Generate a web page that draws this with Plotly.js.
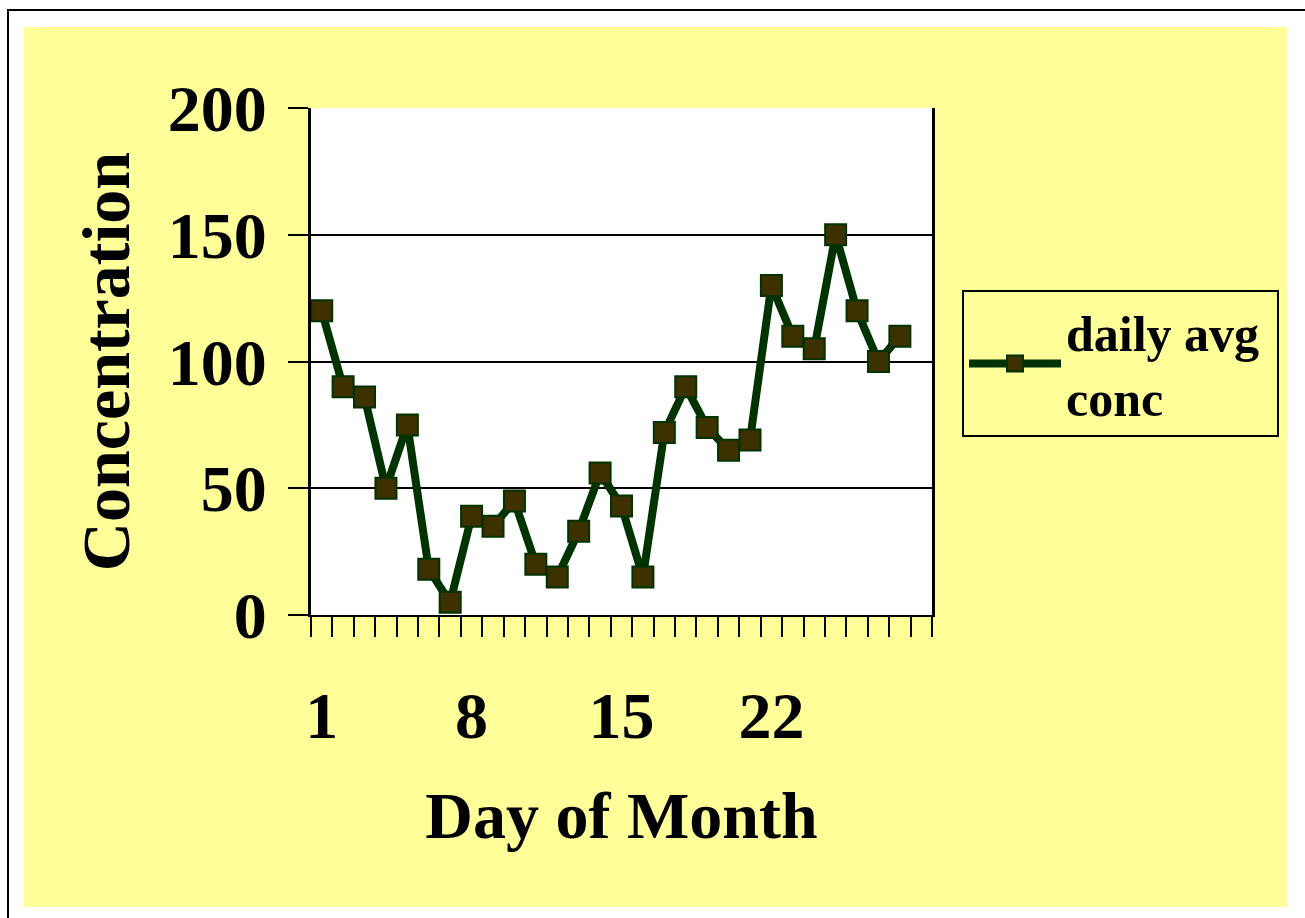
<!DOCTYPE html>
<html>
<head>
<meta charset="utf-8">
<script src="https://cdn.plot.ly/plotly-3.0.1.min.js"></script>
<style>html,body{margin:0;padding:0;background:#fff;}#chart{width:1305px;height:918px;}</style>
</head>
<body>
<div id="chart"></div>
<script>
const days = [1,2,3,4,5,6,7,8,9,10,11,12,13,14,15,16,17,18,19,20,21,22,23,24,25,26,27,28];
const conc = [120,90,86,50,75,18,5,39,35,45,20,15,33,56,43,15,72,90,74,65,69,130,110,105,150,120,100,110];
const xTickVals = [1,8,15,22];
const xTickText = ['1','8','15','22'];
const seriesName = 'daily avg&nbsp;<br>conc';
const xTitle = 'Day of Month';
const yTitle = 'Concentration';

const FONT = 'Liberation Serif, Times New Roman, serif';
const W = 1305, H = 918;
const L = 311, R = 932, T = 108, B = 615;
const pw = R - L, ph = B - T;
const px = v => (v - L) / pw;
const py = v => (B - v) / ph;

const trace = {
  x: days, y: conc, type: 'scatter', mode: 'lines+markers', name: seriesName,
  line: {color: '#003300', width: 8},
  marker: {symbol: 'square', size: 21, color: '#3d3100', line: {color: '#003300', width: 2}},
  xaxis: 'x', yaxis: 'y', hoverinfo: 'x+y'
};
// invisible companion trace so the label axis (x2) is drawn
const labelTrace = {
  x: days, y: conc, type: 'scatter', mode: 'markers', showlegend: false,
  marker: {opacity: 0, size: 1}, xaxis: 'x2', yaxis: 'y', hoverinfo: 'skip'
};

const layout = {
  width: W, height: H,
  margin: {l: L, r: W - R, t: T, b: H - B, pad: 0},
  paper_bgcolor: '#ffffff',
  plot_bgcolor: 'rgba(0,0,0,0)',
  font: {family: FONT, color: '#000'},
  showlegend: true,
  legend: {
    x: px(962), y: py(290), xanchor: 'left', yanchor: 'top',
    bgcolor: '#FFFF99', bordercolor: '#000', borderwidth: 2,
    font: {family: FONT, size: 50, color: '#000', weight: 'bold'},
    itemwidth: 92
  },
  xaxis: {
    range: [0.5, 29.5], tickmode: 'linear', tick0: 0.5, dtick: 1,
    ticks: 'outside', ticklen: 20, tickwidth: 2, tickcolor: '#000',
    showticklabels: false, showgrid: false, zeroline: false,
    showline: true, linecolor: '#000', linewidth: 2, mirror: false,
    title: {text: ''}
  },
  xaxis2: {
    overlaying: 'x', anchor: 'y', side: 'bottom',
    range: [0.5, 29.5], tickmode: 'array', tickvals: xTickVals, ticktext: xTickText,
    ticks: '', showgrid: false, zeroline: false, showline: false,
    ticklabelstandoff: 56,
    tickfont: {family: FONT, size: 66, color: '#000', weight: 'bold'},
    title: {text: xTitle, font: {family: FONT, size: 66, color: '#000', weight: 'bold'}, standoff: 40}
  },
  yaxis: {
    range: [0, 200], tickmode: 'linear', tick0: 0, dtick: 50,
    ticks: 'outside', ticklen: 20, tickwidth: 2, tickcolor: '#000',
    showgrid: true, gridcolor: '#000', gridwidth: 2, zeroline: false,
    showline: true, linecolor: '#000', linewidth: 3, mirror: true,
    ticklabelstandoff: 8,
    tickfont: {family: FONT, size: 66, color: '#000', weight: 'bold'},
    title: {text: yTitle, font: {family: FONT, size: 68, color: '#000', weight: 'bold'}, standoff: 16}
  },
  shapes: [
    {type: 'rect', xref: 'paper', yref: 'paper', layer: 'below',
     x0: px(8), x1: px(1400), y0: py(1000), y1: py(10),
     fillcolor: '#ffffff', line: {color: '#000', width: 2}},
    {type: 'rect', xref: 'paper', yref: 'paper', layer: 'below',
     x0: px(24), x1: px(1287), y0: py(907), y1: py(27),
     fillcolor: '#FFFF99', line: {width: 0}},
    {type: 'rect', xref: 'paper', yref: 'paper', layer: 'below',
     x0: 0, x1: 1, y0: 0, y1: 1,
     fillcolor: '#ffffff', line: {width: 0}}
  ]
};

Plotly.newPlot('chart', [trace, labelTrace], layout, {displayModeBar: false, staticPlot: true});
</script>
</body>
</html>
